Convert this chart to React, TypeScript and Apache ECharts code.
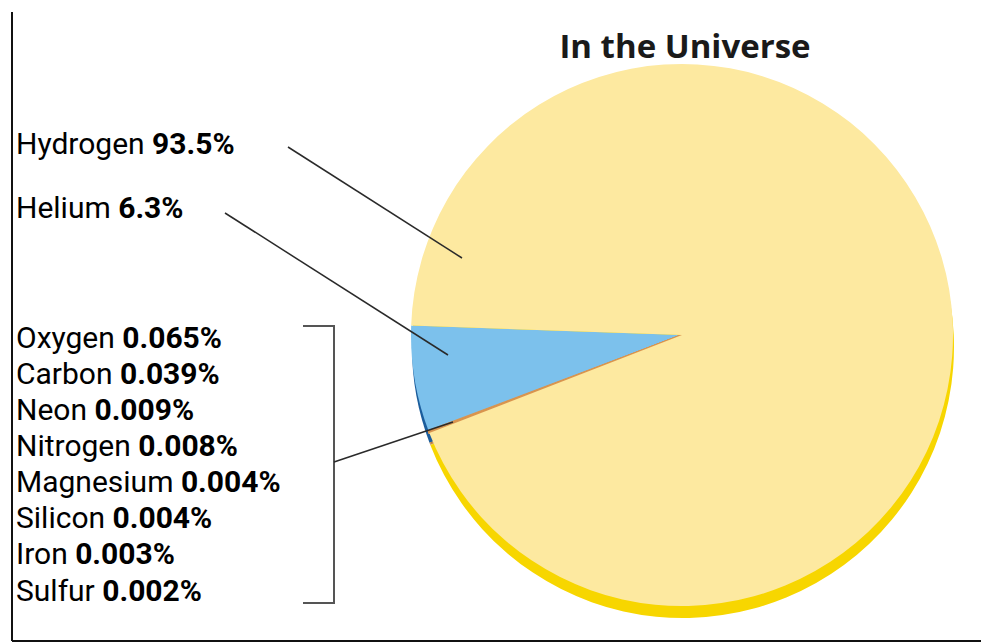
import React, { useEffect, useRef } from "react";
import * as echarts from "echarts";

const titleText = "In the Universe";
const elementNames = ["Helium", "Oxygen", "Carbon", "Neon", "Nitrogen", "Magnesium", "Silicon", "Iron", "Sulfur", "Hydrogen"];
const elementValues = [6.3, 0.065, 0.039, 0.009, 0.008, 0.004, 0.004, 0.003, 0.002, 93.5];
const topColors = ["#7cc1ec", "#d99550", "#d99550", "#d99550", "#d99550", "#d99550", "#d99550", "#d99550", "#d99550", "#fde9a0"];
const sideColors = ["#1b5d9c", "#b8742e", "#b8742e", "#b8742e", "#b8742e", "#b8742e", "#b8742e", "#b8742e", "#b8742e", "#f7d600"];
const minorNames = elementNames.slice(1, 9);
const minorValues = elementValues.slice(1, 9);

const FONT = "'Open Sans', 'Noto Sans', sans-serif";
const LFONT = "Roboto, 'Open Sans', sans-serif";
const TXT = "#262626";

export default function App() {
  const ref = useRef<HTMLDivElement>(null);
  useEffect(() => {
    if (!ref.current) return;
    const chart = echarts.init(ref.current, undefined, { renderer: "svg" });
    const cx = 682, cy = 335, r = 271, depth = 12;
    const mkData = (colors: string[], top: boolean) =>
      elementNames.map((n, i) => ({
        name: n,
        value: elementValues[i],
        itemStyle: {
          color: colors[i],
          borderColor: colors[i],
          borderWidth: top && minorNames.includes(n) ? 1.5 : 0,
        },
      }));

    const FS = 30;
    const rich = {
      n: { fontSize: FS, lineHeight: 32, fontFamily: LFONT, color: TXT },
      v: { fontSize: FS, lineHeight: 32, fontFamily: LFONT, fontWeight: "bold", color: TXT },
    };
    const label = (name: string, value: number, x: number, y: number) => ({
      type: "text",
      x,
      y,
      silent: true,
      style: {
        text: `{n|${name}\u00a0}{v|${value}%}`,
        rich,
        lineHeight: 32,
        verticalAlign: "middle",
        align: "left",
      },
    });

    const hIdx = elementNames.indexOf("Hydrogen");
    const heIdx = elementNames.indexOf("Helium");
    const graphics: any[] = [
      { type: "line", shape: { x1: 12, y1: 12, x2: 12, y2: 641 }, style: { stroke: "#111", lineWidth: 2 }, silent: true },
      { type: "line", shape: { x1: 12, y1: 641, x2: 981, y2: 641 }, style: { stroke: "#111", lineWidth: 2 }, silent: true },
      {
        type: "text", x: 685, y: 45, silent: true,
        style: { text: titleText, fontSize: 33, fontWeight: "bold", fontFamily: FONT, fill: "#1a1a1a", align: "center", verticalAlign: "middle" },
      },
      label(elementNames[hIdx], elementValues[hIdx], 16, 143),
      label(elementNames[heIdx], elementValues[heIdx], 16, 207),
      { type: "line", shape: { x1: 288, y1: 147, x2: 462, y2: 258 }, style: { stroke: "#2a2a2a", lineWidth: 1.5 }, silent: true, z: 100 },
      { type: "line", shape: { x1: 225, y1: 213, x2: 448, y2: 355 }, style: { stroke: "#2a2a2a", lineWidth: 1.5 }, silent: true, z: 100 },
      { type: "polyline", shape: { points: [[303, 326], [334, 326], [334, 603], [303, 603]] }, style: { stroke: "#555", lineWidth: 2, fill: "none" }, silent: true },
      { type: "line", shape: { x1: 334, y1: 462, x2: 453, y2: 422 }, style: { stroke: "#2a2a2a", lineWidth: 1.5 }, silent: true, z: 100 },
    ];
    minorNames.forEach((n, i) => graphics.push(label(n, minorValues[i], 16, 337 + i * 36.15)));

    chart.setOption({
      animation: false,
      backgroundColor: "#ffffff",
      graphic: { elements: graphics },
      series: [
        {
          type: "pie",
          center: [cx + 1, cy + depth],
          radius: r,
          startAngle: 178,
          clockwise: false,
          silent: true,
          label: { show: false },
          labelLine: { show: false },
          data: mkData(sideColors, false),
          z: 1,
        },
        {
          type: "pie",
          center: [cx, cy],
          radius: r,
          startAngle: 178,
          clockwise: false,
          silent: true,
          label: { show: false },
          labelLine: { show: false },
          data: mkData(topColors, true),
          z: 2,
        },
      ],
    });
    return () => chart.dispose();
  }, []);
  return <div ref={ref} style={{ position: "fixed", left: 0, top: 0, width: 981, height: 643 }} />;
}
